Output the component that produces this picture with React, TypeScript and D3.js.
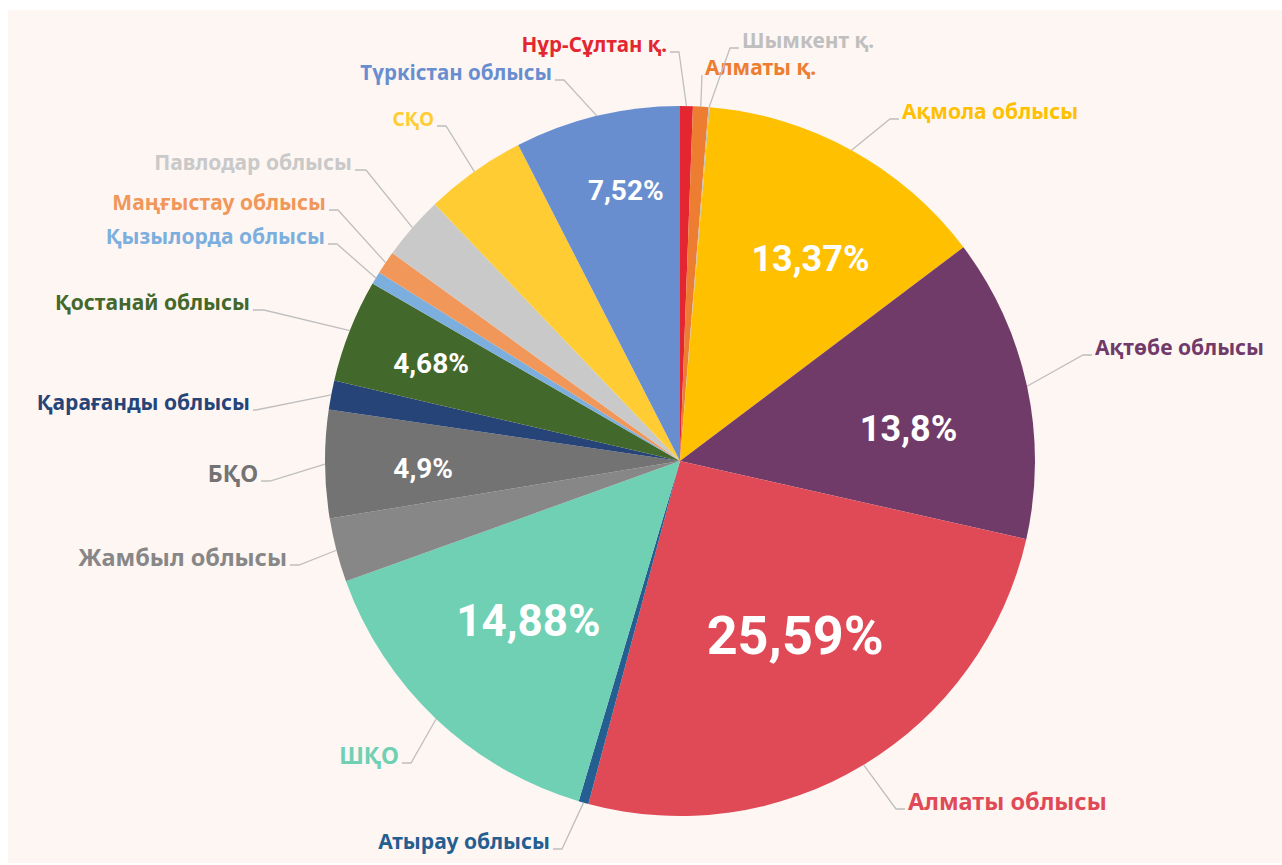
import React from "react";
import * as d3 from "d3";

// regions in clockwise order starting at 12 o'clock
const regions = [
  "Нұр-Сұлтан қ.",
  "Алматы қ.",
  "Шымкент қ.",
  "Ақмола облысы",
  "Ақтөбе облысы",
  "Алматы облысы",
  "Атырау облысы",
  "ШҚО",
  "Жамбыл облысы",
  "БҚО",
  "Қарағанды облысы",
  "Қостанай облысы",
  "Қызылорда облысы",
  "Маңғыстау облысы",
  "Павлодар облысы",
  "СҚО",
  "Түркістан облысы",
];

// share, %
const shares = [
  0.58, 0.7, 0.05, 13.37, 13.8, 25.59, 0.45, 14.88, 2.9, 4.9, 1.33, 4.68, 0.58,
  1.05, 2.9, 4.6, 7.52,
];

const colors = [
  "#E3262F",
  "#ED7D31",
  "#BFBFBF",
  "#FFC000",
  "#713B69",
  "#E04A57",
  "#255E91",
  "#6FD0B4",
  "#878787",
  "#737373",
  "#264478",
  "#43682B",
  "#7CAFDD",
  "#F1975A",
  "#C9C9C9",
  "#FFCD33",
  "#698ED0",
];

// label text anchor: x, y, text-anchor, length of the horizontal leader piece, font size
const labelSpots: [number, number, "start" | "end", number, number][] = [
  [667, 45, "end", 9, 20.5],
  [705, 68, "start", 0, 21],
  [742, 41, "start", 9, 21],
  [902, 112, "start", 9, 21],
  [1095, 348, "start", 9, 21],
  [908, 802, "start", 9, 23.5],
  [550, 842, "end", 9, 21],
  [399, 756, "end", 9, 23],
  [287, 558, "end", 9, 23.5],
  [258, 474, "end", 9, 23],
  [250, 403, "end", 3, 21],
  [250, 303, "end", 11, 21],
  [325, 237, "end", 9, 21],
  [326, 203, "end", 9, 21],
  [352, 163, "end", 11, 21],
  [434, 119, "end", 9, 19],
  [552, 73, "end", 9, 20.5],
];

// nudges for the percentage labels, relative to their place in the slice
const pctNudge: Record<string, [number, number]> = {
  "Ақмола облысы": [19, -1],
  "Ақтөбе облысы": [3, 16],
  "Алматы облысы": [5, -8],
  "ШҚО": [7, -8],
  "БҚО": [13, 5],
  "Қостанай облысы": [2, 1],
  "Түркістан облысы": [9, -9],
};

const W = 1282;
const H = 865;
const cx = 680;
const cy = 461;
const R = 355;

const pctFormat = d3.formatLocale({
  decimal: ",",
  thousands: " ",
  grouping: [3],
  currency: ["", ""],
}).format("~r");

export default function App() {
  const pie = d3
    .pie<number>()
    .sort(null)
    .value((d) => d);
  const arcs = pie(shares);
  const arc = d3
    .arc<d3.PieArcDatum<number>>()
    .innerRadius(0)
    .outerRadius(R);

  const pctSize = (v: number) => (v > 20 ? 54 : v > 14.5 ? 44 : v > 10 ? 36 : 28);
  const pctRadius = (v: number) => (v > 20 ? 0.6 : v > 10 ? 0.65 : 0.76);

  return (
    <svg
      width={W}
      height={H}
      style={{ position: "absolute", left: 0, top: 0 }}
    >
      <rect x={8} y={10} width={W - 8} height={H - 12} fill="#FEF6F3" />
      <g transform={`translate(${cx},${cy})`}>
        {arcs.map((a, i) => (
          <path key={i} d={arc(a) || ""} fill={colors[i]} />
        ))}
      </g>

      {/* leader lines + outside labels */}
      {arcs.map((a, i) => {
        const mid = (a.startAngle + a.endAngle) / 2;
        const sx = cx + R * Math.sin(mid);
        const sy = cy - R * Math.cos(mid);
        const [tx, ty, anchor, len, size] = labelSpots[i];
        const ly = ty + 7;
        const ex = anchor === "start" ? tx - 3 : tx + 3;
        const bx = anchor === "start" ? ex - len : ex + len;
        return (
          <g key={"l" + i}>
            <polyline
              points={`${sx},${sy} ${bx},${ly} ${ex},${ly}`}
              fill="none"
              stroke="#BFBFBF"
              strokeWidth={1.3}
            />
            <text
              x={tx}
              y={ty}
              dy="0.35em"
              textAnchor={anchor}
              fill={colors[i]}
              fontFamily="'Noto Sans', sans-serif"
              fontWeight="bold"
              fontSize={size}
            >
              {regions[i]}
            </text>
          </g>
        );
      })}

      {/* percentages inside the bigger slices */}
      {arcs.map((a, i) => {
        if (a.data < 4.65) return null;
        const mid = (a.startAngle + a.endAngle) / 2;
        const rr = R * pctRadius(a.data);
        const [nx, ny] = pctNudge[regions[i]] || [0, 0];
        return (
          <text
            key={"p" + i}
            x={cx + rr * Math.sin(mid) + nx}
            y={cy - rr * Math.cos(mid) + ny}
            dy="0.35em"
            textAnchor="middle"
            fill="#FFFFFF"
            fontFamily="Roboto, sans-serif"
            fontWeight="bold"
            fontSize={pctSize(a.data)}
          >
            {pctFormat(a.data) + "%"}
          </text>
        );
      })}
    </svg>
  );
}
